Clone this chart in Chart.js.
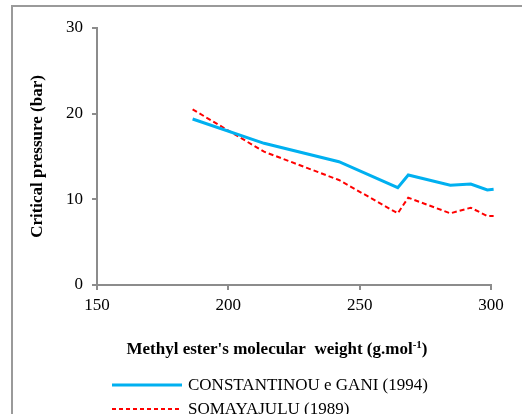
<!DOCTYPE html>
<html>
<head>
<meta charset="utf-8">
<script src="https://cdn.jsdelivr.net/npm/chart.js@4/dist/chart.umd.min.js"></script>
<style>
  html, body { margin: 0; padding: 0; background: #fff; }
  #wrap { position: relative; width: 522px; height: 414px; overflow: hidden; font-family: "Liberation Serif", "Times New Roman", serif; }
  #frame { position: absolute; left: 11px; top: 5px; width: 530px; height: 430px; border: 2px solid #9a9a9a; box-sizing: border-box; }
  #cv { position: absolute; left: 0; top: 0; }
  #xtitle { position: absolute; left: 0; width: 554px; top: 339px; text-align: center; font-weight: bold; font-size: 17px; color: #000; line-height: 20px; }
  #xtitle sup { font-size: 11px; vertical-align: 6px; line-height: 0; }
  .leg { position: absolute; left: 112px; font-size: 17px; color: #000; height: 20px; }
  .leg svg { position: absolute; left: 0; top: 0; }
  .leg span { position: absolute; left: 76px; top: 0px; white-space: nowrap; line-height: 20px; }
</style>
</head>
<body>
<div id="wrap">
  <div id="frame"></div>
  <canvas id="cv" width="522" height="414"></canvas>
  <div id="xtitle">Methyl ester's molecular&nbsp; weight (g.mol<sup>-1</sup>)</div>
  <div class="leg" style="top:375px;">
    <svg width="72" height="20"><line x1="0" y1="10" x2="70" y2="10" stroke="#00B0F0" stroke-width="3"/></svg>
    <span>CONSTANTINOU e GANI (1994)</span>
  </div>
  <div class="leg" style="top:399px;">
    <svg width="72" height="20"><line x1="0" y1="10" x2="70" y2="10" stroke="#FF0000" stroke-width="2" stroke-dasharray="4,3"/></svg>
    <span>SOMAYAJULU (1989)</span>
  </div>
</div>
<script>
// Data
const molecularWeight = [186.4, 213.6, 242.1, 264.5, 268.5, 284.5, 292.3, 298.6, 301.0];
const constantinouGani = [19.38, 16.54, 14.39, 11.36, 12.84, 11.64, 11.79, 11.09, 11.17];
const somayajulu = [20.5, 15.56, 12.26, 8.37, 10.19, 8.37, 9.02, 8.05, 8.05];
const seriesNames = ["CONSTANTINOU e GANI (1994)", "SOMAYAJULU (1989)"];
const xTicks = [150, 200, 250, 300];
const yTicks = [0, 10, 20, 30];

const toPoints = (xs, ys) => xs.map((x, i) => ({ x: x, y: ys[i] }));

const axisColor = '#8c8c8c';
const tickFont = { family: "'Liberation Serif', 'Times New Roman', serif", size: 17 };

new Chart(document.getElementById('cv'), {
  type: 'line',
  data: {
    datasets: [
      {
        label: seriesNames[0],
        data: toPoints(molecularWeight, constantinouGani),
        borderColor: '#00B0F0',
        borderWidth: 3,
        pointRadius: 0,
        tension: 0,
        fill: false,
        clip: false
      },
      {
        label: seriesNames[1],
        data: toPoints(molecularWeight, somayajulu),
        borderColor: '#FF0000',
        borderWidth: 2,
        borderDash: [5, 3],
        pointRadius: 0,
        tension: 0,
        fill: false,
        clip: false
      }
    ]
  },
  options: {
    responsive: false,
    animation: false,
    devicePixelRatio: 1,
    layout: { padding: { top: 28, right: 31, bottom: 0, left: 0 } },
    plugins: { legend: { display: false }, tooltip: { enabled: false } },
    scales: {
      x: {
        type: 'linear',
        min: xTicks[0],
        max: xTicks[xTicks.length - 1],
        afterBuildTicks: (s) => { s.ticks = xTicks.map(v => ({ value: v })); },
        afterFit: (s) => { s.height = 129; },
        grid: { drawOnChartArea: false, drawTicks: true, tickLength: 5, color: axisColor, lineWidth: 2 },
        border: { color: axisColor, width: 2 },
        ticks: { color: '#000', font: tickFont, padding: 5, maxRotation: 0 }
      },
      y: {
        type: 'linear',
        min: yTicks[0],
        max: yTicks[yTicks.length - 1],
        afterBuildTicks: (s) => { s.ticks = yTicks.map(v => ({ value: v })); },
        afterFit: (s) => { s.width = 97; },
        grid: { drawOnChartArea: false, drawTicks: true, tickLength: 5, color: axisColor, lineWidth: 2 },
        border: { color: axisColor, width: 2 },
        ticks: { color: '#000', font: tickFont, padding: 9 },
        title: {
          display: true,
          text: 'Critical pressure (bar)',
          color: '#000',
          font: { family: "'Liberation Serif', 'Times New Roman', serif", size: 17, weight: 'bold' },
          padding: { top: 27, bottom: 0 }
        }
      }
    }
  }
});
</script>
</body>
</html>
